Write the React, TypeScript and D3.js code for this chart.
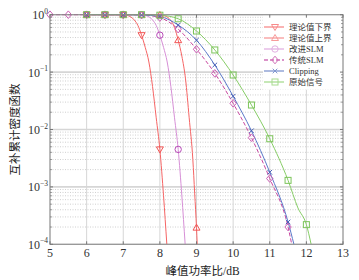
import React from "react";
import * as d3 from "d3";

const W = 359, H = 280;
const xTicks = [5, 6, 7, 8, 9, 10, 11, 12, 13];
const yDecades = [0, -1, -2, -3, -4];

const seriesNames = ["理论值下界", "理论值上界", "改进SLM", "传统SLM", "Clipping", "原始信号"];

const lowerX = [6, 6.5, 7, 7.2, 7.3, 7.4, 7.5, 7.6, 7.7, 7.8, 7.9, 8, 8.1, 8.19];
const lowerY = [1, 1, 0.995, 0.92, 0.81, 0.65, 0.44, 0.27, 0.15, 0.056, 0.016, 0.0045, 0.0007, 0.0001];

const upperX = [6, 6.5, 7, 7.5, 8, 8.2, 8.3, 8.4, 8.5, 8.6, 8.7, 8.8, 8.9, 8.95, 9, 9.02];
const upperY = [1, 1, 1, 1, 0.99, 0.91, 0.79, 0.6, 0.36, 0.19, 0.076, 0.016, 0.003, 0.00078, 0.000195, 0.0001];

const improvedX = [6, 6.5, 7, 7.5, 7.7, 7.8, 7.9, 8, 8.1, 8.2, 8.3, 8.4, 8.5, 8.6, 8.69];
const improvedY = [1, 1, 1, 0.995, 0.92, 0.81, 0.65, 0.44, 0.27, 0.15, 0.056, 0.016, 0.0045, 0.0007, 0.0001];

const traditionalX = [5, 5.5, 6, 6.5, 7, 7.5, 8, 8.5, 9, 9.5, 10, 10.5, 11, 11.5, 11.6];
const traditionalY = [1, 1, 1, 1, 1, 0.99, 0.89, 0.56, 0.25, 0.095, 0.0286, 0.0072, 0.0014, 0.0002, 0.0001];

const clippingX = [6, 6.5, 7, 7.5, 8, 8.5, 9, 9.5, 10, 10.5, 11, 11.5, 11.66];
const clippingY = [1, 1, 1, 0.99, 0.93, 0.66, 0.36, 0.133, 0.038, 0.0095, 0.0018, 0.000245, 0.0001];

const originalX = [6, 6.5, 7, 7.5, 8, 8.5, 9, 9.5, 10, 10.5, 11, 11.5, 11.77, 12, 12.13];
const originalY = [1, 1, 1, 1, 0.98, 0.85, 0.52, 0.243, 0.089, 0.0267, 0.0069, 0.0013, 0.00043, 0.00022, 0.0001];

const L = 50, R = 343, T = 14.7, B = 244.3;
const x = d3.scaleLinear().domain([5, 13]).range([L, R]);
const y = d3.scaleLog().domain([1e-4, 1]).range([B, T]);

type S = { name: string; xs: number[]; ys: number[]; color: string; mcolor: string; dash?: string; marker: string; lcolor: string };
const series: S[] = [
  { name: seriesNames[0], xs: lowerX, ys: lowerY, color: "#f56464", mcolor: "#f25555", marker: "tdown", lcolor: "#f78a8a" },
  { name: seriesNames[1], xs: upperX, ys: upperY, color: "#f56464", mcolor: "#f25555", marker: "tup", lcolor: "#f79a9a" },
  { name: seriesNames[2], xs: improvedX, ys: improvedY, color: "#d68fd6", mcolor: "#b84ab8", marker: "circle", lcolor: "#e2b0e2" },
  { name: seriesNames[3], xs: traditionalX, ys: traditionalY, color: "#c8479f", mcolor: "#cc5fb5", dash: "4,2", marker: "diamond", lcolor: "#d070b8" },
  { name: seriesNames[4], xs: clippingX, ys: clippingY, color: "#5a78c8", mcolor: "#4a62b8", marker: "x", lcolor: "#8097d0" },
  { name: seriesNames[5], xs: originalX, ys: originalY, color: "#86cc66", mcolor: "#7cc45a", marker: "square", lcolor: "#a8dc90" },
];

function Marker({ kind, cx, cy, color }: { kind: string; cx: number; cy: number; color: string }) {
  const p = { fill: "none", stroke: color, strokeWidth: 1 };
  if (kind === "tdown") return <path d={`M${cx - 3.5},${cy - 2.5}L${cx + 3.5},${cy - 2.5}L${cx},${cy + 3.5}Z`} {...p} />;
  if (kind === "tup") return <path d={`M${cx - 3.5},${cy + 2.5}L${cx + 3.5},${cy + 2.5}L${cx},${cy - 3.5}Z`} {...p} />;
  if (kind === "circle") return <circle cx={cx} cy={cy} r={3.2} {...p} />;
  if (kind === "diamond") return <path d={`M${cx},${cy - 3.8}L${cx + 3.2},${cy}L${cx},${cy + 3.8}L${cx - 3.2},${cy}Z`} {...p} />;
  if (kind === "x") return <path d={`M${cx - 2.3},${cy - 2.3}L${cx + 2.3},${cy + 2.3}M${cx - 2.3},${cy + 2.3}L${cx + 2.3},${cy - 2.3}`} {...p} />;
  return <rect x={cx - 3} y={cy - 3} width={6} height={6} {...p} />;
}

export default function App() {
  const line = d3.line<[number, number]>().x(d => x(d[0])).y(d => y(d[1])).curve(d3.curveMonotoneX);
  const minors: number[] = [];
  for (let e = -4; e < 0; e++) for (let k = 2; k <= 9; k++) minors.push(k * Math.pow(10, e));
  const serif = "'Liberation Serif', 'DejaVu Serif', serif";
  const cjk = "'Noto Sans CJK SC', sans-serif";
  const legX = 263, legY0 = 27, legDy = 11;
  return (
    <div style={{ position: "fixed", left: 0, top: 0 }}>
      <svg width={W} height={H} style={{ display: "block", background: "#fff" }}>
        <rect x={0} y={0} width={W} height={H} fill="#fff" />
        {/* grid */}
        {minors.map((v, i) => (
          <line key={"m" + i} x1={L} x2={R} y1={y(v)} y2={y(v)} stroke="#c4c4c4" strokeWidth={0.8} strokeDasharray="1,1.5" />
        ))}
        {yDecades.map(e => (
          <line key={"d" + e} x1={L} x2={R} y1={y(Math.pow(10, e))} y2={y(Math.pow(10, e))} stroke="#d6d6d6" strokeWidth={1.6} />
        ))}
        {xTicks.map(t => (
          <line key={"v" + t} x1={x(t)} x2={x(t)} y1={T} y2={B} stroke="#d6d6d6" strokeWidth={1} />
        ))}
        {/* lines */}
        <g clipPath="url(#clip)">
          {series.map(s => (
            <path key={s.name} d={line(s.xs.map((v, i) => [v, s.ys[i]] as [number, number])) || ""} fill="none" stroke={s.color} strokeWidth={1} strokeDasharray={s.dash} />
          ))}
          {series.map(s =>
            s.xs.map((v, i) =>
              Math.abs(v * 2 - Math.round(v * 2)) < 1e-9 && s.ys[i] > 1e-4 ? (
                <Marker key={s.name + i} kind={s.marker} cx={x(v)} cy={y(s.ys[i])} color={s.mcolor} />
              ) : null
            )
          )}
        </g>
        <defs>
          <clipPath id="clip">
            <rect x={L - 6} y={T - 6} width={R - L + 12} height={B - T + 6} />
          </clipPath>
        </defs>
        {/* legend */}
        <rect x={legX} y={T + 1} width={R - legX - 1} height={74} fill="#fff" />
        {series.map((s, i) => {
          const ly = legY0 + i * legDy;
          return (
            <g key={"l" + i}>
              <line x1={legX + 1} x2={legX + 21} y1={ly} y2={ly} stroke={s.lcolor} strokeWidth={1.3} strokeDasharray={s.dash} />
              <Marker kind={s.marker} cx={legX + 12} cy={ly} color={s.lcolor} />
              <text x={legX + 26} y={ly} dy="0.35em" fontSize={8.5} fontFamily={s.name.match(/[A-Za-z]/) ? `${serif}` : cjk} fill="#333">
                {s.name.match(/SLM/) ? (
                  <>
                    <tspan fontFamily={cjk}>{s.name.replace("SLM", "")}</tspan>
                    <tspan fontFamily={serif}>SLM</tspan>
                  </>
                ) : s.name}
              </text>
            </g>
          );
        })}
        {/* axes box and ticks */}
        <rect x={L} y={T} width={R - L} height={B - T} fill="none" stroke="#8a8a8a" strokeWidth={1} />
        {xTicks.map(t => (
          <g key={"xt" + t}>
            <line x1={x(t)} x2={x(t)} y1={B} y2={B - 3} stroke="#777" />
            <line x1={x(t)} x2={x(t)} y1={T} y2={T + 3} stroke="#777" />
            <text x={x(t)} y={257} textAnchor="middle" fontSize={12} fontFamily={serif} fill="#333">{t}</text>
          </g>
        ))}
        {yDecades.map(e => (
          <g key={"yt" + e}>
            <line x1={L} x2={L + 3} y1={y(Math.pow(10, e))} y2={y(Math.pow(10, e))} stroke="#777" />
            <line x1={R} x2={R - 3} y1={y(Math.pow(10, e))} y2={y(Math.pow(10, e))} stroke="#777" />
            <text x={48} y={y(Math.pow(10, e)) + 4.5} textAnchor="end" fontSize={12} fontFamily={serif} fill="#333">
              10<tspan fontSize={7.5} dy={-5.5}>{e === 0 ? "0" : "\u2212" + -e}</tspan>
            </text>
          </g>
        ))}
        {minors.map((v, i) => (
          <g key={"mt" + i}>
            <line x1={L} x2={L + 1.8} y1={y(v)} y2={y(v)} stroke="#888" />
            <line x1={R} x2={R - 1.8} y1={y(v)} y2={y(v)} stroke="#888" />
          </g>
        ))}
        <text x={(L + R) / 2 + 6} y={275} textAnchor="middle" fontSize={11.5} fill="#222">
          <tspan fontFamily={cjk}>峰值功率比</tspan>
          <tspan fontFamily={serif}>/dB</tspan>
        </text>
        <text transform={`translate(15,${(T + B) / 2}) rotate(-90)`} textAnchor="middle" dy="0.35em" fontSize={11.5} fontFamily={cjk} fill="#222">
          互补累计密度函数
        </text>
      </svg>
    </div>
  );
}
